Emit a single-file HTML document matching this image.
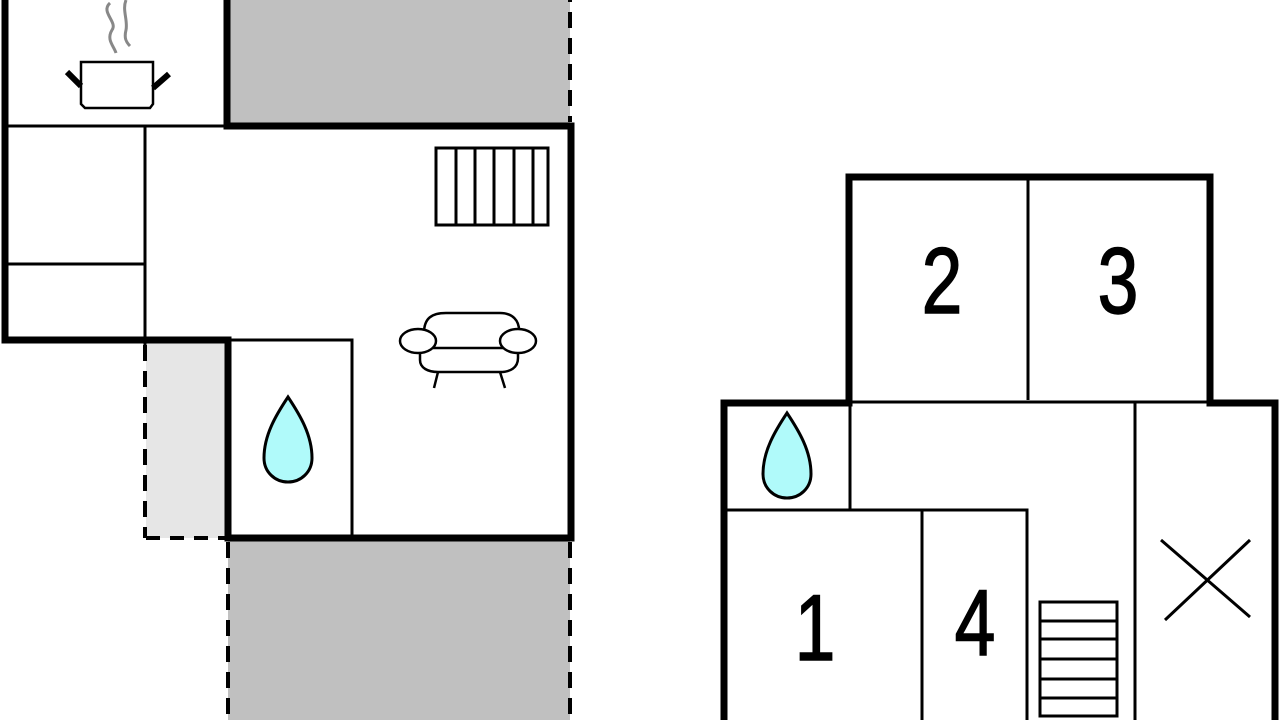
<!DOCTYPE html>
<html><head><meta charset="utf-8"><style>
html,body{margin:0;padding:0;background:#fff;width:1280px;height:720px;overflow:hidden}
svg{display:block}
text{font-family:"Liberation Sans",sans-serif;font-size:94px;fill:#000;stroke:#000;stroke-width:1.5}
</style></head><body>
<svg width="1280" height="720" viewBox="0 0 1280 720" xmlns="http://www.w3.org/2000/svg">
<rect x="228" y="0" width="342" height="124" fill="#c0c0c0"/>
<rect x="146" y="343" width="80" height="195" fill="#e6e6e6"/>
<rect x="228" y="541" width="342" height="179" fill="#c0c0c0"/>
<g stroke="#000" fill="none">
<line x1="570" y1="0" x2="570" y2="122" stroke-width="4" stroke-dasharray="16,10" stroke-dashoffset="-12"/>
<line x1="145" y1="345" x2="145" y2="538" stroke-width="4" stroke-dasharray="16,10"/>
<line x1="146" y1="538" x2="226" y2="538" stroke-width="4" stroke-dasharray="14,10"/>
<line x1="228" y1="542" x2="228" y2="720" stroke-width="4" stroke-dasharray="16,10"/>
<line x1="570" y1="542" x2="570" y2="720" stroke-width="4" stroke-dasharray="16,10"/>
<g stroke-width="7" stroke-linecap="square">
<line x1="5" y1="0" x2="5" y2="340"/>
<line x1="227" y1="0" x2="227" y2="126"/>
<line x1="227" y1="126" x2="571" y2="126"/>
<line x1="571" y1="126" x2="571" y2="538"/>
<line x1="5" y1="340" x2="228" y2="340"/>
<line x1="228" y1="340" x2="228" y2="538"/>
<line x1="228" y1="538" x2="571" y2="538"/>
</g>
<g stroke-width="3">
<line x1="5" y1="126" x2="227" y2="126"/>
<line x1="145" y1="126" x2="145" y2="350"/>
<line x1="5" y1="264" x2="145" y2="264"/>
<polyline points="228,340 352,340 352,537"/>
</g>
<rect x="436" y="148" width="112" height="77" stroke-width="3"/>
<g stroke-width="3">
<line x1="456" y1="148" x2="456" y2="225"/><line x1="475" y1="148" x2="475" y2="225"/>
<line x1="494" y1="148" x2="494" y2="225"/><line x1="514" y1="148" x2="514" y2="225"/>
<line x1="533" y1="148" x2="533" y2="225"/>
</g>
<path d="M81,62 H153 V104 L150,108 H85 L81,104 Z" stroke-width="2.5"/>
<line x1="67" y1="72" x2="81" y2="86" stroke-width="6"/>
<line x1="169" y1="74" x2="153" y2="88" stroke-width="6"/>
<path d="M110,3 C100,12 118,22 112,30 C106,40 114,46 116,53" stroke="#888" stroke-width="3"/>
<path d="M126,0 C122,10 128,20 126,30 C124,38 126,42 130,46" stroke="#888" stroke-width="3"/>
<g stroke-width="2.5" fill="#fff">
<path d="M424,333 C424,318 432,313 446,313 H500 C512,313 520,320 519,333"/>
<path d="M420,348 V360 C420,368 428,372 438,372 H500 C510,372 518,368 518,358 V348"/>
<line x1="433" y1="348" x2="505" y2="348"/>
<ellipse cx="418" cy="341" rx="18" ry="12"/>
<ellipse cx="518" cy="341" rx="18" ry="12"/>
<line x1="438" y1="372" x2="434" y2="388"/>
<line x1="500" y1="372" x2="505" y2="388"/>
</g>
<path d="M288,397 C276,415 264,435 264,458 C264,472 275,482 288,482 C301,482 312,472 312,458 C312,435 300,415 288,397 Z" fill="#b0fafa" stroke-width="3"/>
<path d="M787,413 C775,431 763,451 763,474 C763,488 774,498 787,498 C800,498 811,488 811,474 C811,451 799,431 787,413 Z" fill="#b0fafa" stroke-width="3"/>
<g stroke-width="7" stroke-linecap="square">
<polyline points="849,400 849,177 1210,177 1210,400"/>
<polyline points="724,720 724,403 849,403"/>
<polyline points="1210,403 1275,403 1275,720"/>
</g>
<g stroke-width="3">
<line x1="1028" y1="177" x2="1028" y2="400"/>
<line x1="849" y1="402" x2="1210" y2="402"/>
<line x1="850" y1="403" x2="850" y2="510"/>
<polyline points="724,510 1027,510 1027,720"/>
<line x1="922" y1="510" x2="922" y2="720"/>
<line x1="1135" y1="403" x2="1135" y2="720"/>
<line x1="1161" y1="540" x2="1250" y2="617"/>
<line x1="1250" y1="540" x2="1165" y2="620"/>
<rect x="1040" y="602" width="77" height="114"/>
<line x1="1040" y1="621" x2="1117" y2="621"/><line x1="1040" y1="639" x2="1117" y2="639"/>
<line x1="1040" y1="659" x2="1117" y2="659"/><line x1="1040" y1="679" x2="1117" y2="679"/>
<line x1="1040" y1="698" x2="1117" y2="698"/>
</g>
</g>
<text transform="translate(942,313) scale(0.78,1)" text-anchor="middle">2</text>
<text transform="translate(1118,313) scale(0.78,1)" text-anchor="middle">3</text>
<text transform="translate(815,660) scale(0.78,1)" text-anchor="middle">1</text>
<text transform="translate(975,655) scale(0.78,1)" text-anchor="middle">4</text>
</svg>
</body></html>
